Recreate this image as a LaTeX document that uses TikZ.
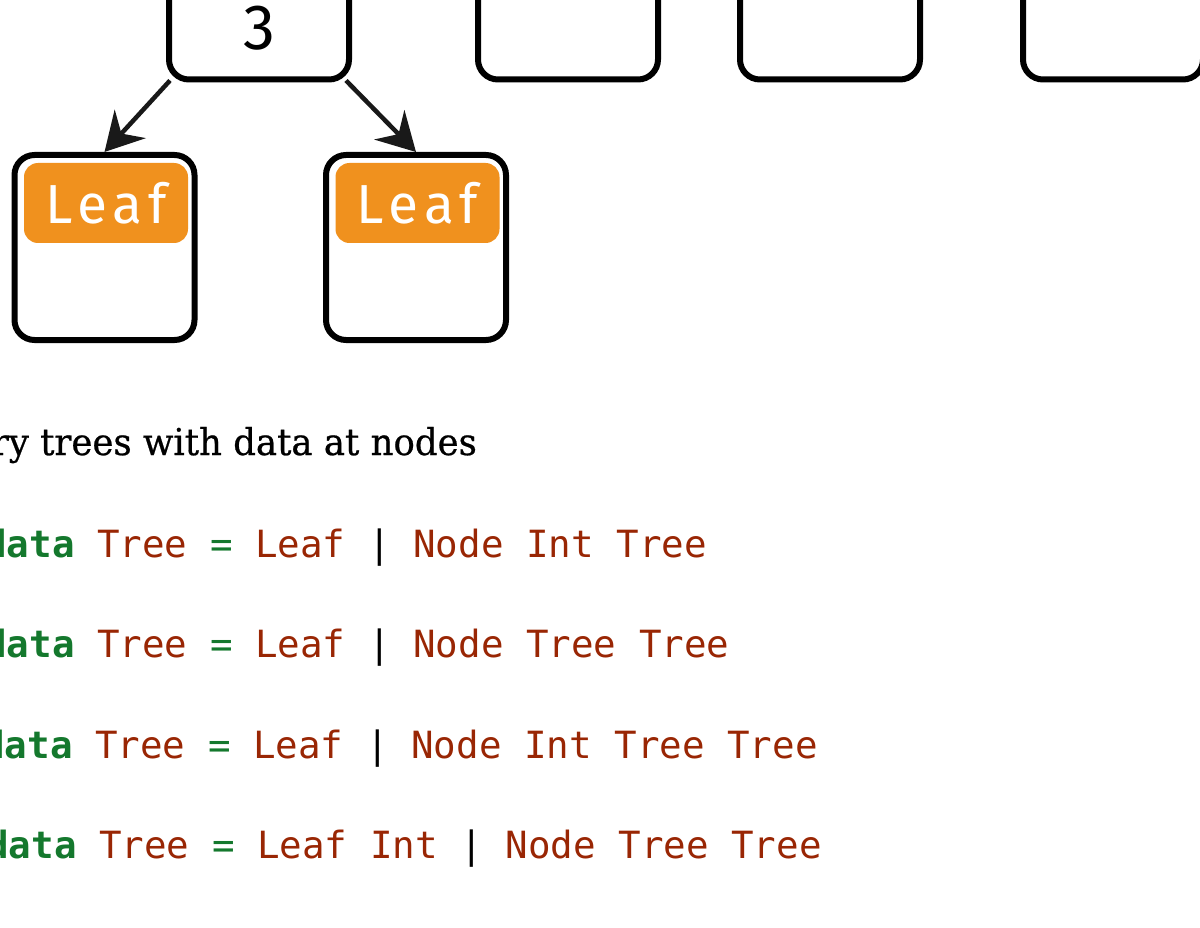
\documentclass[tikz,border=0pt]{standalone}
\usepackage{fontspec}
\usetikzlibrary{arrows.meta}
\newfontfamily\codefont{DejaVu Sans Mono}
\newfontfamily\textserif[FakeStretch=0.96,FakeBold=0.6]{DejaVu Serif}
\newfontfamily\labelsans{Fira Sans}
\newfontfamily\tagsans[LetterSpace=11]{Fira Sans}
\definecolor{tagorange}{RGB}{240,145,30}
\definecolor{codered}{RGB}{153,38,4}
\definecolor{codegreen}{RGB}{20,120,45}
\newcommand{\kw}[1]{\textcolor{codegreen}{\bfseries #1}}
\newcommand{\eqs}{\textcolor{codegreen}{=}}
\begin{document}
\begin{tikzpicture}[x=1pt,y=-1pt,
  cell/.style={draw=black,line width=6pt,rounded corners=20pt,fill=white,
    minimum width=180pt,inner sep=0pt},
  topcell/.style={cell,minimum height=103pt,
    font=\labelsans\fontsize{64}{64}\selectfont},
  leafcell/.style={cell,minimum height=185pt},
  tag/.style={fill=tagorange,rounded corners=14pt,minimum width=164pt,
    minimum height=80pt,inner sep=0pt,text=white,
    font=\tagsans\fontsize{55}{55}\selectfont},
  link/.style={line width=4.5pt,draw=black!90,
    -{Stealth[length=38pt,width=42pt,inset=13pt]}},
  codeline/.style={anchor=base west,inner sep=0pt,
    font=\codefont\fontsize{37.5}{40}\selectfont,text=codered},
]
\useasboundingbox (0,0) rectangle (1200,928);
\clip (0,0) rectangle (1200,928);

% top row of cells
\node[topcell] (three) at (259,28) {3};
\node[topcell] (cellB) at (568,28) {};
\node[topcell] (cellC) at (830,28) {};
\node[topcell] (cellD) at (1113,28) {};

% the two leaves
\node[leafcell] (leafL) at (104.5,247.5) {};
\node[leafcell] (leafR) at (416,247.5) {};
\node[tag] (tagL) at (106,203) {Leaf};
\node[tag] (tagR) at (417.5,203) {Leaf};

% edges from the node to its subtrees
\draw[link] ([shift={(4pt,2pt)}]three.south west) -- (leafL.north);
\draw[link] ([shift={(-6pt,2pt)}]three.south east) -- (leafR.north);

% caption
\node[anchor=base west,inner sep=0pt,
  font=\textserif\fontsize{37}{40}\selectfont] (caption) at (40,455)
  {\llap{ry }trees with data at nodes};

% candidate definitions
\node[codeline] (defA) at (97,557)
  {\llap{\kw{data} }Tree \eqs{} Leaf \textcolor{black}{|} Node Int Tree};
\node[codeline] (defB) at (97,657)
  {\llap{\kw{data} }Tree \eqs{} Leaf \textcolor{black}{|} Node Tree Tree};
\node[codeline] (defC) at (95,758)
  {\llap{\kw{data} }Tree \eqs{} Leaf \textcolor{black}{|} Node Int Tree Tree};
\node[codeline] (defD) at (99,858)
  {\llap{\kw{data} }Tree \eqs{} Leaf Int \textcolor{black}{|} Node Tree Tree};
\end{tikzpicture}
\end{document}
